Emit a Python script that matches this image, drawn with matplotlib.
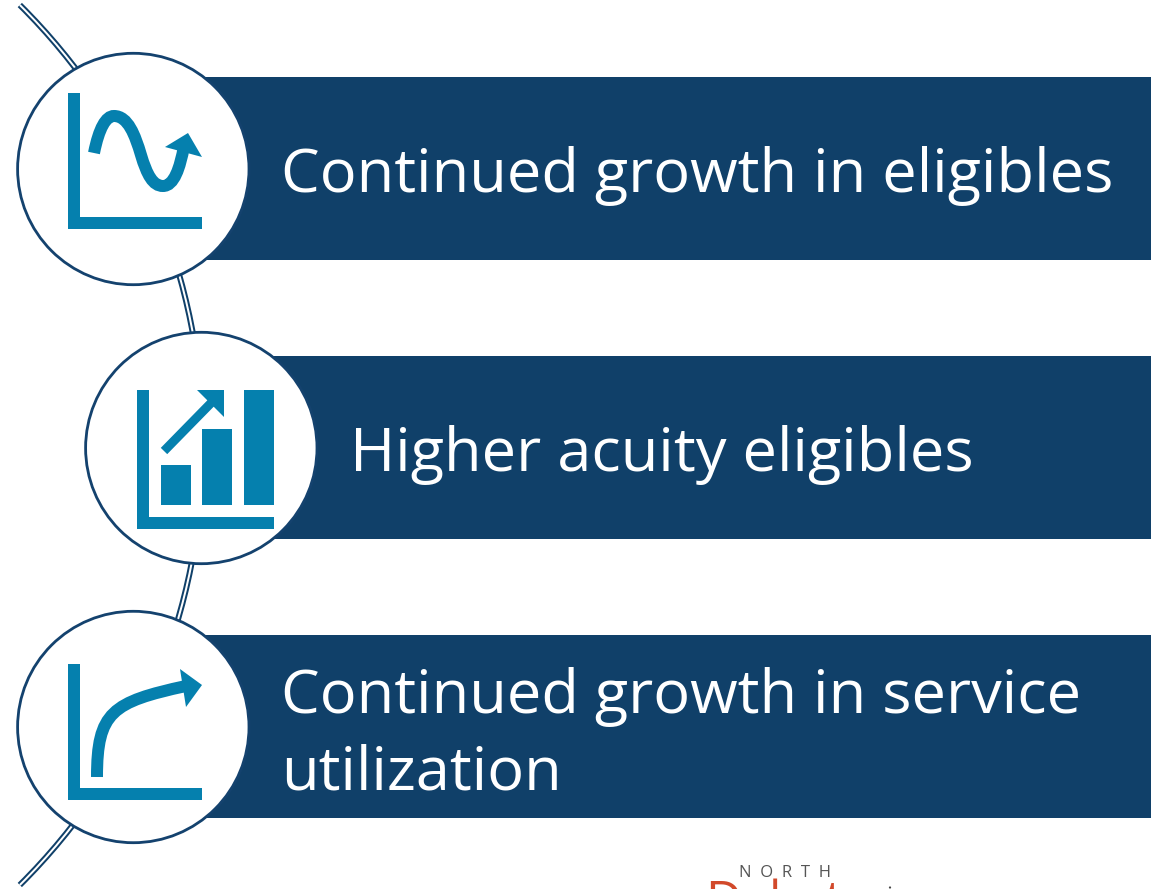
import numpy as np
import matplotlib
matplotlib.use("Agg")
import matplotlib.pyplot as plt
from matplotlib.patches import Rectangle, Circle, Polygon, PathPatch, Arc
from matplotlib.path import Path

# content
labels = ["Continued growth in eligibles", "Higher acuity eligibles", "Continued growth in service\nutilization"]
icon_bar_heights = [40, 76, 115]
logo_top = "N  O  R  T  H"
logo_main = "Dakota"

NAVY = "#104069"
RING = "#14426E"
TEAL = "#0580AE"
RED = "#D2492A"
W, H = 1158, 889
px = 72 / 100

fig = plt.figure(figsize=(W / 100, H / 100), dpi=100, facecolor="white")
ax = fig.add_axes([0, 0, 1, 1])
ax.set_xlim(0, W)
ax.set_ylim(H, 0)
ax.axis("off")

# background arc (double line)
cx, cy, R = -417, 445, 620
theta = np.degrees(np.arcsin(440 / R))
for lw, col, z in ((6.0, NAVY, 1), (2.0, "white", 2)):
    ax.add_patch(Arc((cx, cy), 2 * R, 2 * R, theta1=-theta, theta2=theta, lw=lw * px, color=col, zorder=z))

rows = [(133.3, 169, 77, 281, 192), (201.3, 448, 356, 350, 471), (133.3, 727, 635, 281, 789.5)]
for (ccx, ccy, top, tx, base), label in zip(rows, labels):
    ax.add_patch(Rectangle((ccx + 40, top), 1151 - ccx - 40, 183, fc=NAVY, ec="none", zorder=3))
    ax.add_patch(Circle((ccx, ccy), 115.7, fc="white", ec=RING, lw=2.8 * px, zorder=4))
    ax.text(tx, base, label, color="white", fontsize=44.2, family="Open Sans", va="baseline",
            linespacing=1.35, zorder=6)


def axes_L(x0, y0, x1, y1):
    ax.add_patch(Polygon([(x0, y0), (x0 + 12, y0), (x0 + 12, y1 - 12), (x1, y1 - 12), (x1, y1), (x0, y1)],
                         fc=TEAL, ec="none", zorder=5))


def stroke(verts, codes, w):
    ax.add_patch(PathPatch(Path(verts, codes), fc="none", ec=TEAL, lw=w * px, capstyle="butt", zorder=5))


C4, M, L = Path.CURVE4, Path.MOVETO, Path.LINETO

# icon 1
axes_L(67.5, 93, 202, 228.5)
stroke([(94, 153), (99, 128), (106, 116), (114, 116), (128, 116), (135, 135), (141, 155),
        (147, 175), (153, 186), (163, 186), (174, 186), (180, 168), (184, 146)],
       [M, C4, C4, C4, C4, C4, C4, C4, C4, C4, C4, C4, C4], 12)
ax.add_patch(Polygon([(165, 147), (188, 133), (202, 157)], fc=TEAL, ec="none", zorder=5))

# icon 2
axes_L(137, 390, 274, 528.5)
baseline = 505
for left, h in zip((161, 202, 244), icon_bar_heights):
    ax.bar(left, -h, width=30, bottom=baseline, align="edge", color=TEAL, zorder=5)
ax.set_xlim(0, W)
ax.set_ylim(H, 0)
stroke([(164, 451), (212, 402)], [M, L], 9)
ax.add_patch(Polygon([(197, 390), (224, 390), (224, 417)], fc=TEAL, ec="none", zorder=5))

# icon 3
axes_L(67.5, 664, 202, 799.5)
stroke([(97, 777), (97, 712), (112, 702), (186, 686)], [M, C4, C4, C4], 12)
ax.add_patch(Polygon([(180, 669), (202, 685), (186, 707)], fc=TEAL, ec="none", zorder=5))

# logo, cut by the lower edge
ax.text(739, 877, logo_top, color="#555555", fontsize=12, family="Open Sans", va="baseline", zorder=6)
ax.text(705, 916, logo_main, color=RED, fontsize=36, family="Open Sans", va="baseline", zorder=6, clip_on=True)
ax.add_patch(Circle((890, 887.5), 1.1, fc="#444444", ec="none", zorder=6))

fig.savefig("out.png", dpi=100, facecolor="white")
